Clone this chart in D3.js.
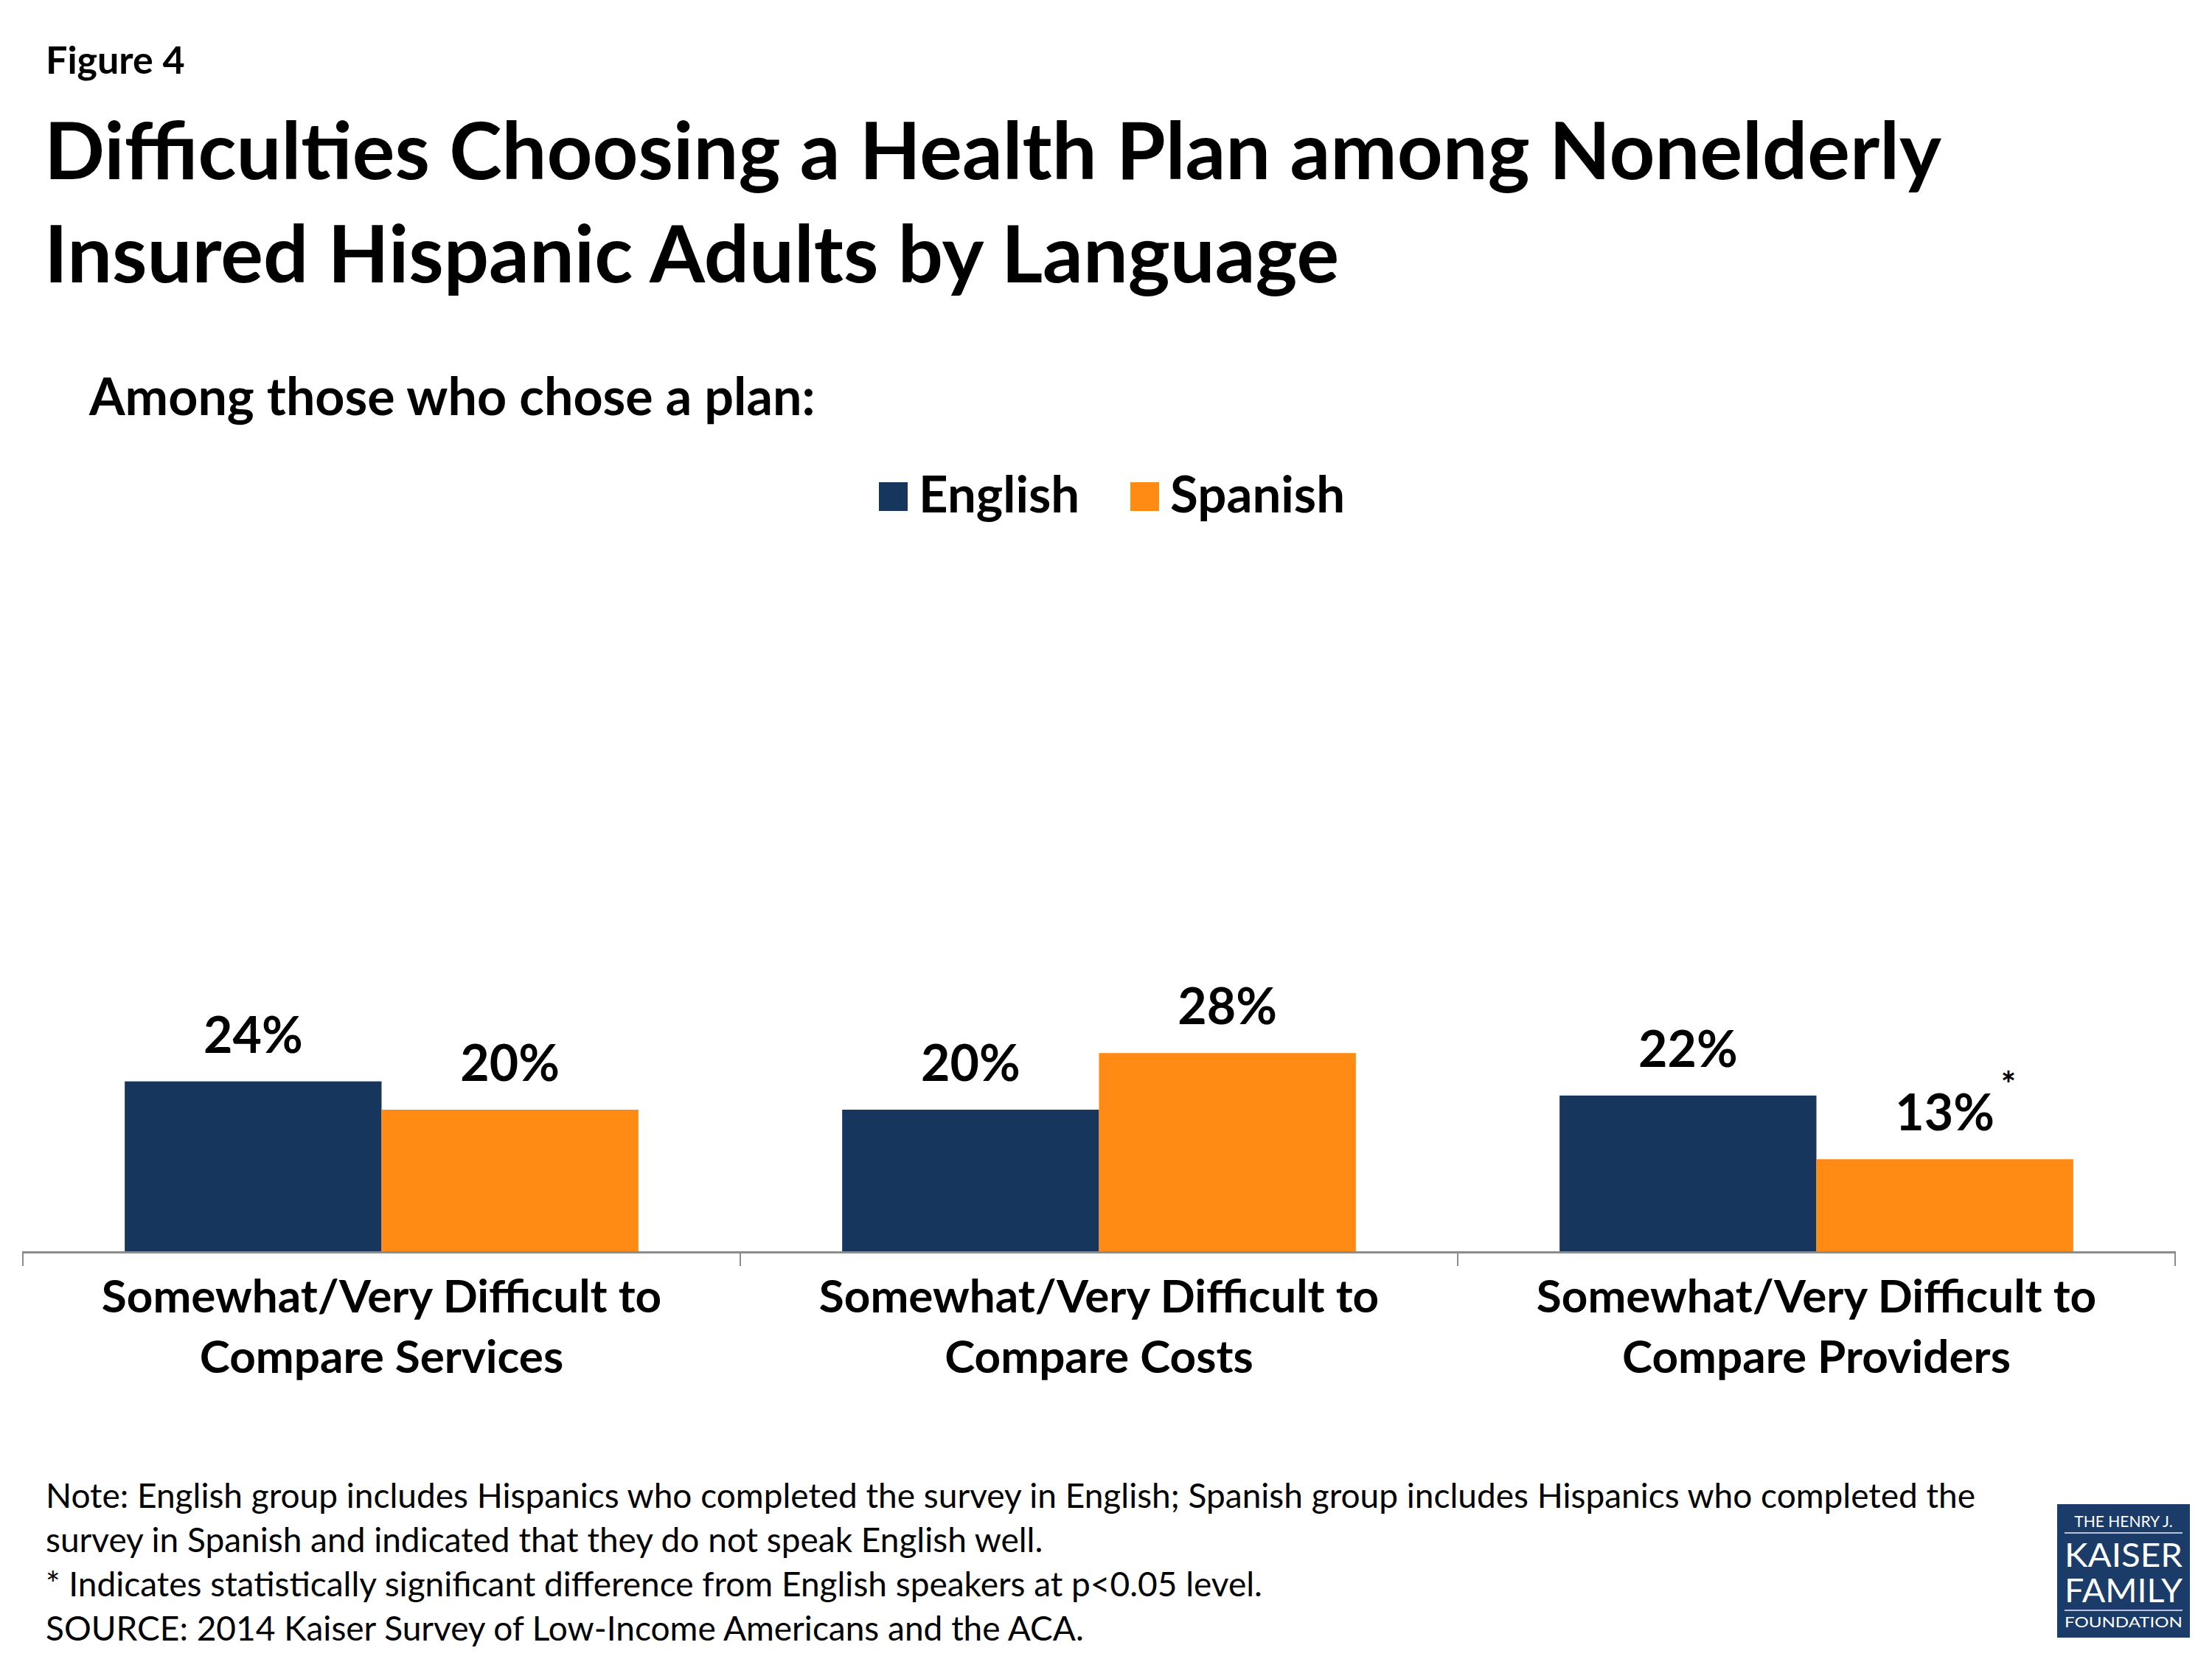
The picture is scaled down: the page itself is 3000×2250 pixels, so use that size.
<!DOCTYPE html>
<html>
<head>
<meta charset="utf-8">
<script src="https://cdn.jsdelivr.net/npm/d3@7"></script>
<style>
  body { margin: 0; background: #fff; }
  text { font-family: Lato, "Open Sans", sans-serif; fill: #000; }
</style>
</head>
<body>
<script>
// chart values
const CATEGORIES = ['Compare Services', 'Compare Costs', 'Compare Providers'];
const CATEGORY_LINES = [
  ['Somewhat/Very Difficult to', 'Compare Services'],
  ['Somewhat/Very Difficult to', 'Compare Costs'],
  ['Somewhat/Very Difficult to', 'Compare Providers']
];
const SERIES = ['English', 'Spanish'];
const ENGLISH = [24, 20, 22];
const SPANISH = [20, 28, 13];
const SPANISH_SIG = [false, false, true];
const COLORS = ['#17365D', '#FF8A14'];

const NOTES = [
  'Note: English group includes Hispanics who completed the survey in English; Spanish group includes Hispanics who completed the',
  'survey in Spanish and indicated that they do not speak English well.',
  '* Indicates statistically significant difference from English speakers at p<0.05 level.',
  'SOURCE: 2014 Kaiser Survey of Low-Income Americans and the ACA.'
];

const W = 3000, H = 2250;
const svg = d3.select('body').append('svg')
  .attr('width', W).attr('height', H);

// headings
svg.append('text').attr('x', 62).attr('y', 100)
  .attr('font-size', 52).attr('font-weight', 700).text('Figure 4');

const title = ['Difficulties Choosing a Health Plan among Nonelderly',
               'Insured Hispanic Adults by Language'];
svg.selectAll('.title').data(title).enter().append('text')
  .attr('x', 60).attr('y', (d, i) => 243 + i * 140)
  .attr('font-size', 108).attr('font-weight', 700).text(d => d);

svg.append('text').attr('x', 121).attr('y', 563)
  .attr('font-size', 70).attr('font-weight', 700)
  .text('Among those who chose a plan:');

// legend
const legendX = [1192, 1533];
const legend = svg.selectAll('.legend').data(SERIES).enter().append('g')
  .attr('transform', (d, i) => `translate(${legendX[i]},654)`);
legend.append('rect').attr('width', 39).attr('height', 39)
  .attr('fill', (d, i) => COLORS[i]);
legend.append('text').attr('x', 54).attr('y', 41)
  .attr('font-size', 69).attr('font-weight', 700).text(d => d);

// scales
const x0 = d3.scaleBand().domain(CATEGORIES).range([31, 2950]);
const bw = x0.bandwidth();
const x1 = d3.scaleBand().domain(SERIES).range([bw * 0.142, bw * 0.858]);
const y = d3.scaleLinear().domain([0, 100]).range([1697, 737]);

const rows = CATEGORIES.map((c, i) => ({
  cat: c,
  vals: [
    { s: 'English', v: ENGLISH[i], sig: false },
    { s: 'Spanish', v: SPANISH[i], sig: SPANISH_SIG[i] }
  ]
}));

const groups = svg.selectAll('.grp').data(rows).enter().append('g')
  .attr('transform', d => `translate(${x0(d.cat)},0)`);

groups.selectAll('rect').data(d => d.vals).enter().append('rect')
  .attr('x', d => x1(d.s))
  .attr('width', x1.bandwidth())
  .attr('y', d => y(d.v))
  .attr('height', d => y(0) - y(d.v))
  .attr('fill', (d, i) => COLORS[i]);

groups.selectAll('.val').data(d => d.vals).enter().append('text')
  .attr('x', d => x1(d.s) + x1.bandwidth() / 2)
  .attr('y', d => y(d.v) - 39)
  .attr('text-anchor', 'middle')
  .attr('font-size', 68).attr('font-weight', 700)
  .text(d => d.v + '%');

groups.selectAll('.sig').data(d => d.vals.filter(v => v.sig)).enter().append('text')
  .attr('x', d => x1(d.s) + x1.bandwidth() / 2 + 76)
  .attr('y', d => y(d.v) - 84)
  .attr('font-size', 48).attr('font-weight', 700)
  .text('*');

// axis: baseline with ticks at category boundaries
svg.append('line')
  .attr('x1', x0.range()[0]).attr('x2', x0.range()[1])
  .attr('y1', y(0) + 1.5).attr('y2', y(0) + 1.5)
  .attr('stroke', '#8c8c8c').attr('stroke-width', 3);
const bounds = CATEGORIES.map(c => x0(c)).concat([x0.range()[1]]);
svg.selectAll('.tick').data(bounds).enter().append('line')
  .attr('x1', d => d).attr('x2', d => d)
  .attr('y1', y(0)).attr('y2', y(0) + 20)
  .attr('stroke', '#8c8c8c').attr('stroke-width', 2);

// category labels
groups.each(function(d, i) {
  d3.select(this).selectAll('.cat').data(CATEGORY_LINES[i]).enter().append('text')
    .attr('x', bw / 2)
    .attr('y', (t, j) => 1780 + j * 82)
    .attr('text-anchor', 'middle')
    .attr('font-size', 62).attr('font-weight', 700)
    .text(t => t);
});

// notes
svg.selectAll('.note').data(NOTES).enter().append('text')
  .attr('x', 62).attr('y', (d, i) => 2045 + i * 60)
  .attr('font-size', 46).text(d => d);

// logo
const logo = svg.append('g').attr('transform', 'translate(2790,2040)');
logo.append('rect').attr('width', 180).attr('height', 181).attr('fill', '#1B3B69');
const serif = 'Liberation Serif, DejaVu Serif, serif';
logo.append('text').attr('x', 90).attr('y', 31).attr('text-anchor', 'middle')
  .attr('font-family', serif).attr('font-size', 21).style('fill', '#fff')
  .text('THE HENRY J.');
logo.append('line').attr('x1', 10).attr('x2', 170).attr('y1', 39).attr('y2', 39)
  .attr('stroke', '#b8c4d6').attr('stroke-width', 2);
logo.append('text').attr('x', 90).attr('y', 85).attr('text-anchor', 'middle')
  .attr('font-family', serif).attr('font-size', 44).style('fill', '#fff')
  .attr('textLength', 160).attr('lengthAdjust', 'spacingAndGlyphs')
  .text('KAISER');
logo.append('text').attr('x', 90).attr('y', 133).attr('text-anchor', 'middle')
  .attr('font-family', serif).attr('font-size', 44).style('fill', '#fff')
  .attr('textLength', 160).attr('lengthAdjust', 'spacingAndGlyphs')
  .text('FAMILY');
logo.append('line').attr('x1', 10).attr('x2', 170).attr('y1', 144).attr('y2', 144)
  .attr('stroke', '#b8c4d6').attr('stroke-width', 2);
logo.append('text').attr('x', 90).attr('y', 167).attr('text-anchor', 'middle')
  .attr('font-family', serif).attr('font-size', 19).style('fill', '#fff')
  .attr('textLength', 160).attr('lengthAdjust', 'spacingAndGlyphs')
  .text('FOUNDATION');
</script>
</body>
</html>
